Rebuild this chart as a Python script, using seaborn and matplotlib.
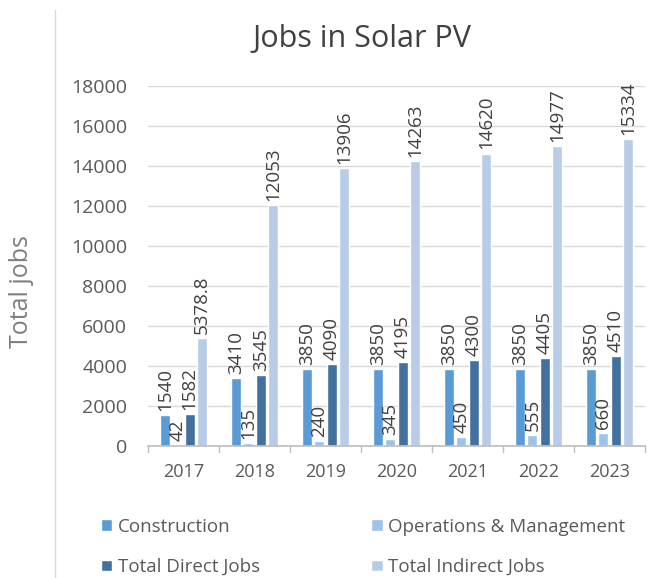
import matplotlib
matplotlib.use("Agg")
import matplotlib.pyplot as plt
import seaborn as sns
import pandas as pd
from matplotlib.lines import Line2D

years = ["2017", "2018", "2019", "2020", "2021", "2022", "2023"]
construction = [1540, 3410, 3850, 3850, 3850, 3850, 3850]
operations = [42, 135, 240, 345, 450, 555, 660]
direct = [1582, 3545, 4090, 4195, 4300, 4405, 4510]
indirect = [5378.8, 12053, 13906, 14263, 14620, 14977, 15334]
series = ["Construction", "Operations & Management", "Total Direct Jobs", "Total Indirect Jobs"]
colors = ["#5B9BD5", "#9DC3E6", "#41719C", "#B8CCE8"]

rows = []
for name, vals in zip(series, [construction, operations, direct, indirect]):
    for y, v in zip(years, vals):
        rows.append({"Year": y, "Series": name, "Jobs": v})
df = pd.DataFrame(rows)

sns.set_theme(style="white")
plt.rcParams['font.family'] = ['Open Sans', 'DejaVu Sans']

fig = plt.figure(figsize=(6.62, 5.78), dpi=100)
ax = fig.add_axes([148/662, 1-446/578, (645-148)/662, (446-86)/578])

sns.barplot(data=df, x="Year", y="Jobs", hue="Series", palette=colors,
            width=0.7, gap=0.2, saturation=1, ax=ax, legend=True)

ax.set_ylim(0, 18000)
ax.set_yticks(range(0, 18001, 2000))
ax.yaxis.grid(True, color="#D9D9D9", linewidth=1)
ax.set_axisbelow(True)
for s in ["top", "right", "left"]:
    ax.spines[s].set_visible(False)
ax.spines["bottom"].set_color("#BFBFBF")
ax.tick_params(axis="y", length=0, labelsize=14, labelcolor="#595959", pad=15)
ax.tick_params(axis="x", length=0, labelsize=13, labelcolor="#595959", pad=12)
for i in range(len(years) + 1):
    ax.plot([i - 0.5, i - 0.5], [0, -300], color="#BFBFBF", lw=1, clip_on=False)
ax.set_xlim(-0.5, len(years) - 0.5)
ax.set_xlabel("")
ax.set_ylabel("Total jobs", fontsize=18, color="#7F7F7F")
ax.yaxis.set_label_coords(-0.229, 0.43)

for cont, vals in zip(ax.containers, [construction, operations, direct, indirect]):
    labels = [("%g" % v) for v in vals]
    ax.bar_label(cont, labels=labels, rotation=90, padding=3, fontsize=13.5,
                 color="#404040", clip_on=False)

fig.text(362/662, 1-39/578, "Jobs in Solar PV", ha="center", va="center",
         fontsize=22, color="#404040")

handles, labels_ = ax.get_legend_handles_labels()
order = [0, 2, 1, 3]
leg = ax.legend([handles[i] for i in order], [labels_[i] for i in order],
                ncol=2, loc="upper left", bbox_to_anchor=(-0.129, -0.152),
                frameon=False, fontsize=13.5, handlelength=0.6, handleheight=0.6,
                handletextpad=0.3, columnspacing=5.95, labelspacing=1.2,
                labelcolor="#595959")

fig.add_artist(Line2D([55/662, 55/662], [0, 1-10/578], color="#D9D9D9", lw=1))

fig.savefig("out.png", dpi=100)
